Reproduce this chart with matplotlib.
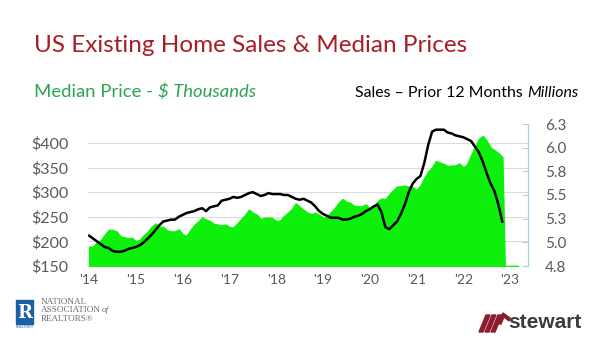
import numpy as np
import matplotlib.pyplot as plt
from matplotlib.patches import Rectangle, Polygon

# Monthly data, Jan 2014 onward
price_k = [
    189, 189, 198, 202, 213, 223, 223, 220, 210, 208, 206, 207,   # 2014
    200, 203, 212, 219, 229, 236, 230, 229, 222, 220, 220, 224,   # 2015
    214, 211, 223, 233, 240, 248, 244, 241, 235, 234, 232, 234,   # 2016
    229, 228, 236, 245, 253, 264, 258, 254, 245, 248, 248, 247,   # 2017
    241, 242, 251, 258, 265, 277, 270, 264, 258, 255, 258, 254,   # 2018
    248, 249, 259, 267, 278, 286, 280, 278, 272, 271, 271, 275,   # 2019
    266, 270, 281, 287, 285, 295, 304, 311, 312, 313, 311, 310,   # 2020
    304, 313, 329, 342, 350, 363, 360, 357, 353, 354, 354, 358,   # 2021
    350, 357, 375, 391, 408, 414, 404, 390, 385, 379, 371,        # 2022
    0, 0, 0, 0,                                                   # no data yet
]
sales_12m = [
    5.07, 5.04, 5.01, 4.98, 4.95, 4.94, 4.91, 4.90, 4.90, 4.91, 4.93, 4.94,
    4.95, 4.97, 5.00, 5.04, 5.08, 5.13, 5.18, 5.22, 5.23, 5.24, 5.24, 5.27,
    5.29, 5.31, 5.32, 5.33, 5.35, 5.36, 5.33, 5.37, 5.38, 5.39, 5.44, 5.45,
    5.46, 5.48, 5.47, 5.48, 5.50, 5.52, 5.53, 5.51, 5.49, 5.50, 5.52, 5.51,
    5.51, 5.51, 5.50, 5.50, 5.48, 5.46, 5.45, 5.46, 5.44, 5.42, 5.38, 5.33,
    5.30, 5.28, 5.26, 5.26, 5.26, 5.24, 5.24, 5.25, 5.27, 5.28, 5.30, 5.33,
    5.35, 5.38, 5.40, 5.32, 5.16, 5.14, 5.18, 5.22, 5.30, 5.40, 5.53, 5.62,
    5.67, 5.70, 5.84, 6.03, 6.17, 6.19, 6.19, 6.19, 6.16, 6.15, 6.13, 6.12,
    6.11, 6.09, 6.07, 6.01, 5.95, 5.85, 5.73, 5.62, 5.54, 5.40, 5.22,
]
year_labels = ["'14", "'15", "'16", "'17", "'18", "'19", "'20", "'21", "'22", "'23"]
price_ticks = [150, 200, 250, 300, 350, 400]
price_tick_labels = ["$150", "$200", "$250", "$300", "$350", "$400"]
sales_ticks = [4.75, 5.0, 5.25, 5.5, 5.75, 6.0, 6.25]
sales_tick_labels = ["4.8", "5.0", "5.3", "5.5", "5.8", "6.0", "6.3"]

GREEN = "#0cf00c"
GRAY_TXT = "#595959"

plt.rcParams["font.family"] = ["Lato", "DejaVu Sans"]

fig = plt.figure(figsize=(6, 3.38), dpi=100)
fig.patch.set_facecolor("white")

ax = fig.add_axes([88 / 600, 72 / 338, 440 / 600, 142 / 338])
months = np.arange(len(price_k))

# price area (left axis)
ax.fill_between(months, price_k, 150, color=GREEN, edgecolor=GREEN,
                linewidth=1.2, zorder=2)
ax.set_ylim(150, 438.6)
ax.set_xlim(-0.3, 112.6)
ax.set_yticks(price_ticks)
ax.set_yticklabels(price_tick_labels, color=GRAY_TXT, fontsize=11.5)
ax.yaxis.grid(True, color="#dcdcdc", linewidth=0.8, zorder=0)
ax.set_axisbelow(True)
ax.set_xticks(np.arange(0, 109, 12))
ax.set_xticklabels(year_labels, color=GRAY_TXT, fontsize=10)
ax.tick_params(axis="both", length=0, pad=6)
ax.tick_params(axis="y", pad=14)
for s in ax.spines.values():
    s.set_visible(False)

# sales line (right axis)
ax2 = ax.twinx()
ax2.plot(np.arange(len(sales_12m)), sales_12m, color="black", linewidth=1.8,
         zorder=3)
ax2.set_ylim(4.75, 6.25)
ax2.set_yticks(sales_ticks)
ax2.set_yticklabels(sales_tick_labels, color=GRAY_TXT, fontsize=11)
ax2.tick_params(axis="y", direction="in", length=4, width=0.8,
                color="#a9d6e5", pad=12)
for name, s in ax2.spines.items():
    s.set_visible(name == "right")
ax2.spines["right"].set_color("#a9d6e5")
ax2.spines["right"].set_linewidth(0.9)

# headings
fig.text(34 / 600, 1 - 45 / 338, "US Existing Home Sales & Median Prices",
         color="#a81e26", fontsize=17.5, va="center", ha="left")
t1 = fig.text(34 / 600, 1 - 97 / 338, "Median Price - ", color="#2ea352",
              fontsize=13.3, va="baseline", ha="left")
t2 = fig.text(355 / 600, 1 - 97 / 338, "Sales \u2013 Prior 12 Months ",
              color="black", fontsize=11.4, va="baseline", ha="left")

fig.canvas.draw()
r = fig.canvas.get_renderer()


def place_after(first, txt, **kw):
    # put txt right after the first text, sharing its baseline
    bb = first.get_window_extent(r)
    x, y = first.get_position()
    fig.text(bb.x1 / fig.bbox.width, y, txt, va="baseline", ha="left", **kw)


place_after(t1, "$ Thousands", color="#2ea352", fontsize=13.3, style="italic")
place_after(t2, "Millions", color="black", fontsize=11.4, style="italic")

# NAR logo
logo = fig.add_axes([0, 0, 1, 1], zorder=5)
logo.set_xlim(0, 600)
logo.set_ylim(338, 0)
logo.axis("off")
logo.patch.set_alpha(0)
logo.add_patch(Rectangle((16, 300), 17, 24, color="#1d5fa3"))
logo.text(24.5, 312.5, "R", color="white", fontsize=13, fontweight="bold",
          ha="center", va="center", family="DejaVu Serif")
logo.text(24.5, 327.5, "REALTOR\u00ae", color="#1d5fa3", fontsize=2.5,
          ha="center", va="center")
nar_lines = ["NATIONAL", "ASSOCIATION", "REALTORS\u00ae"]
nar = []
for i, line in enumerate(nar_lines):
    nar.append(logo.text(41, 302 + i * 8.4, line, color="#6d6d6d",
                         fontsize=6.6, ha="left", va="center",
                         family="Liberation Serif"))
bb = nar[1].get_window_extent(r)
logo.text(logo.transData.inverted().transform((bb.x1, 0))[0] + 1, 310.4, "of",
          color="#6d6d6d", fontsize=6.6, ha="left", va="center",
          family="Liberation Serif", style="italic")

# stewart logo
for i in range(3):
    x0 = 479 + i * 6
    logo.add_patch(Polygon([(x0, 332), (x0 + 4, 332), (x0 + 11, 315),
                            (x0 + 7, 315)], color="#8c1d2c"))
logo.add_patch(Polygon([(497, 324), (501, 324), (504, 317), (509, 321),
                        (510, 318), (503, 313)], color="#8c1d2c"))
logo.text(508, 323, "stewart", color="#3c3c3c", fontsize=15,
          fontweight="bold", ha="left", va="center", family="Liberation Sans")

fig.savefig("out.png", dpi=100)
